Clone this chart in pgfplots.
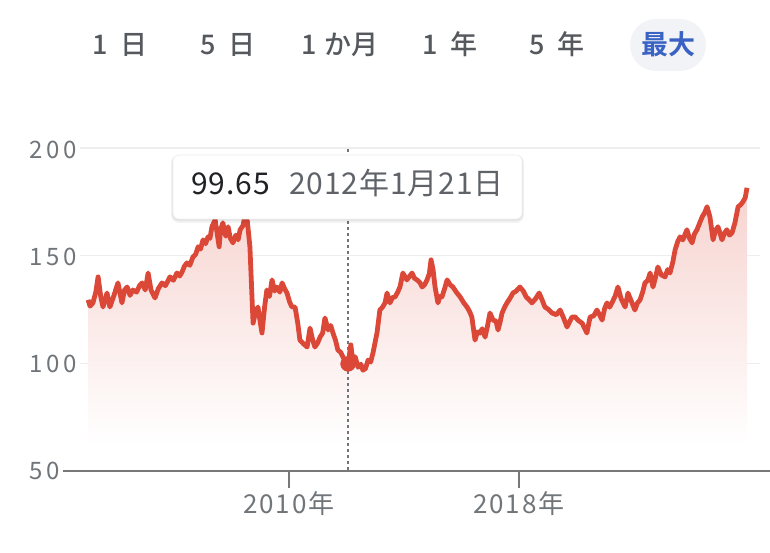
\documentclass[border=0pt]{standalone}
\usepackage{fontspec}
\setmainfont{Noto Sans CJK JP}[UprightFont={* Medium}, BoldFont={* Bold}]
\newfontfamily\numfont{Noto Sans CJK JP}[LetterSpace=16]
\newfontfamily\tickfont{Noto Sans CJK JP}[LetterSpace=7]
\newfontfamily\tipfont{Noto Sans CJK JP}[LetterSpace=3]
\usepackage{pgfplots}
\pgfplotsset{compat=1.18}
\usepackage{pgfplotstable}

\definecolor{lineRed}{RGB}{219,72,56}
\definecolor{labelGray}{RGB}{112,117,122}
\definecolor{axisGray}{RGB}{120,120,120}
\definecolor{gridGray}{RGB}{238,238,238}
\definecolor{btnGray}{RGB}{85,88,92}
\definecolor{selBlue}{RGB}{58,98,196}
\definecolor{pill}{RGB}{241,243,246}
\definecolor{tipBlack}{RGB}{32,33,36}
\definecolor{tipGray}{RGB}{95,99,104}

% EUR/JPY
\pgfplotstableread{
year value
2003.01 129.4
2003.08 126.5
2003.18 128.0
2003.28 133.0
2003.36 140.1
2003.45 131.0
2003.53 126.1
2003.67 132.6
2003.77 126.1
2003.90 131.0
2004.05 137.3
2004.19 128.0
2004.28 134.0
2004.37 135.4
2004.47 131.5
2004.57 134.0
2004.70 133.0
2004.80 136.0
2004.89 137.3
2005.00 134.0
2005.10 141.9
2005.20 134.0
2005.34 130.3
2005.45 134.5
2005.58 137.3
2005.70 136.0
2005.86 140.1
2005.98 138.5
2006.10 141.9
2006.20 140.5
2006.28 142.4
2006.36 145.0
2006.45 146.6
2006.55 145.5
2006.66 149.4
2006.75 150.5
2006.84 154.1
2006.92 153.0
2007.01 157.3
2007.10 155.5
2007.18 158.7
2007.25 158.0
2007.32 163.4
2007.43 166.6
2007.57 154.1
2007.62 162.0
2007.70 165.2
2007.80 159.0
2007.88 163.4
2007.96 158.0
2008.05 155.9
2008.15 159.5
2008.23 157.3
2008.30 162.0
2008.40 164.0
2008.47 168.5
2008.55 166.0
2008.64 154.1
2008.75 118.6
2008.84 124.0
2008.92 126.1
2009.00 119.0
2009.06 114.0
2009.15 126.0
2009.23 134.0
2009.32 131.0
2009.41 138.7
2009.50 133.5
2009.58 135.4
2009.68 133.0
2009.76 137.3
2009.85 134.5
2009.93 132.6
2010.02 128.5
2010.10 126.1
2010.21 126.1
2010.30 119.0
2010.38 110.7
2010.50 109.0
2010.63 107.5
2010.73 116.3
2010.82 111.0
2010.90 107.5
2011.00 109.5
2011.08 112.1
2011.17 114.0
2011.25 121.0
2011.36 115.4
2011.45 117.5
2011.53 114.0
2011.62 110.5
2011.70 106.1
2011.80 105.0
2011.88 102.8
2011.95 101.0
2012.02 97.5
2012.055 99.65
2012.15 108.5
2012.23 100.0
2012.30 103.0
2012.40 98.1
2012.50 99.5
2012.57 96.7
2012.66 97.5
2012.75 101.4
2012.84 100.5
2012.92 104.7
2013.00 110.0
2013.06 114.0
2013.16 124.7
2013.25 126.0
2013.34 128.0
2013.41 132.6
2013.51 128.0
2013.60 130.5
2013.69 130.8
2013.78 133.0
2013.86 135.4
2013.96 141.9
2014.02 140.5
2014.10 138.7
2014.20 140.5
2014.28 141.9
2014.36 139.5
2014.45 138.7
2014.55 137.5
2014.63 135.4
2014.72 136.5
2014.80 138.7
2014.88 141.5
2014.94 148.0
2015.01 143.5
2015.08 135.4
2015.18 128.0
2015.25 131.0
2015.32 130.8
2015.42 135.0
2015.50 138.7
2015.60 136.5
2015.70 135.4
2015.82 133.0
2015.95 130.8
2016.08 128.0
2016.19 126.1
2016.28 124.0
2016.36 121.4
2016.47 110.7
2016.55 114.5
2016.64 114.0
2016.72 116.0
2016.82 112.1
2016.90 117.0
2016.99 123.3
2017.10 120.0
2017.20 119.5
2017.27 115.4
2017.34 119.0
2017.41 123.3
2017.50 126.0
2017.58 128.0
2017.68 130.0
2017.79 132.6
2017.90 133.5
2018.03 135.4
2018.15 133.5
2018.25 130.8
2018.35 129.5
2018.45 128.0
2018.58 130.0
2018.70 132.6
2018.80 129.5
2018.90 126.1
2019.02 125.0
2019.15 123.3
2019.30 122.5
2019.43 124.7
2019.55 121.0
2019.67 116.8
2019.75 119.0
2019.84 121.4
2019.95 121.5
2020.05 120.0
2020.20 118.5
2020.36 114.0
2020.47 121.4
2020.60 122.0
2020.71 124.7
2020.80 122.5
2020.89 120.0
2020.98 125.5
2021.06 128.0
2021.15 126.0
2021.23 128.0
2021.34 131.0
2021.44 135.4
2021.55 130.0
2021.69 126.1
2021.79 132.6
2021.90 129.0
2022.03 124.7
2022.12 128.0
2022.21 129.4
2022.30 133.0
2022.38 137.3
2022.48 138.5
2022.56 141.9
2022.66 135.4
2022.75 140.0
2022.83 144.7
2022.95 141.0
2023.08 140.1
2023.17 143.5
2023.25 141.9
2023.35 147.0
2023.43 152.7
2023.52 156.5
2023.60 158.7
2023.70 157.3
2023.78 160.0
2023.84 162.0
2023.93 158.0
2024.02 155.9
2024.10 160.0
2024.19 162.0
2024.28 165.0
2024.37 168.0
2024.46 170.0
2024.54 172.7
2024.64 168.0
2024.75 157.3
2024.83 161.5
2024.92 163.4
2025.00 160.0
2025.06 157.3
2025.15 160.5
2025.23 162.0
2025.32 159.5
2025.41 160.6
2025.51 165.2
2025.62 172.7
2025.70 173.5
2025.79 175.0
2025.87 177.0
2025.93 181.5
}\eurjpy

\begin{document}
\begin{tikzpicture}
\useasboundingbox (0,0) rectangle (770pt,552pt);

\begin{axis}[
  at={(63pt,81.3pt)}, anchor=south west,
  scale only axis, width=707pt, height=322.7pt,
  xmin=2002.139, xmax=2026.730, ymin=50, ymax=200,
  clip=false,
  axis x line=bottom, axis y line=left,
  y axis line style={draw=none},
  x axis line style={-, axisGray, line width=2.2pt},
  xtick={2010,2018}, xticklabels={2010年,2018年},
  ytick=\empty,
  tick align=outside,
  major tick length=17pt,
  xtick style={axisGray, line width=2pt},
  xticklabel style={font=\tickfont\fontsize{26}{30}\selectfont, text=labelGray, inner sep=0pt, yshift=-4pt},
]
  % horizontal grid
  \pgfplotsinvokeforeach{100,150,200}{
    \draw[gridGray, line width=1.2pt] (axis cs:2002.73,#1) -- (axis cs:2026.38,#1);
  }
  \addplot[draw=none, top color=lineRed!24, bottom color=white]
    table {\eurjpy} |- (axis cs:2003.01,62) -- cycle;

  \draw[labelGray, line width=1.5pt, dash pattern=on 3pt off 3pt]
    (axis cs:2012.055,199.5) -- (axis cs:2012.055,50);

  \addplot[lineRed, line width=4.8pt, line join=round] table {\eurjpy};
  \addplot[only marks, mark=*, mark size=7.5pt, lineRed] coordinates {(2012.055,99.65)};
\end{axis}

\begin{scope}[x=1pt, y=-1pt, yshift=552pt]
  % y labels
  \foreach \v/\py in {200/149.5, 150/256.5, 100/363.5, 50/470.7} {
    \node[anchor=west, inner sep=0pt, text=labelGray, font=\numfont\fontsize{24}{28}\selectfont] at (29,\py) {\v};
  }

  % tooltip
  \fill[black, opacity=0.05, rounded corners=8pt] (171,155) rectangle (524,223);
  \fill[black, opacity=0.06, rounded corners=7pt] (172,155) rectangle (523,221);
  \draw[fill=white, draw=gridGray, line width=0.6pt, rounded corners=6pt] (173,155) rectangle (522,219);
  \node[anchor=base west, inner sep=0pt, text=tipBlack, font=\tipfont\fontsize{30}{34}\selectfont] at (191,195) {99.65};
  \node[anchor=base west, inner sep=0pt, text=tipGray, font=\tipfont\fontsize{30}{34}\selectfont] at (289,195) {2012年1月21日};

  % range buttons
  \fill[pill, rounded corners=26pt] (630,19) rectangle (706,71);
  \begin{scope}[every node/.style={anchor=base, inner sep=0pt, text=btnGray, font=\fontsize{27}{32}\selectfont}]
    \node at (120,55) {1\hspace{0.45em}日};
    \node at (228,55) {5\hspace{0.45em}日};
    \node at (340,55) {1\hspace{0.3em}か月};
    \node at (450,55) {1\hspace{0.45em}年};
    \node at (557,55) {5\hspace{0.45em}年};
    \node[text=selBlue, font=\fontsize{27}{32}\selectfont\bfseries] at (668,55) {最大};
  \end{scope}
\end{scope}
\end{tikzpicture}
\end{document}
